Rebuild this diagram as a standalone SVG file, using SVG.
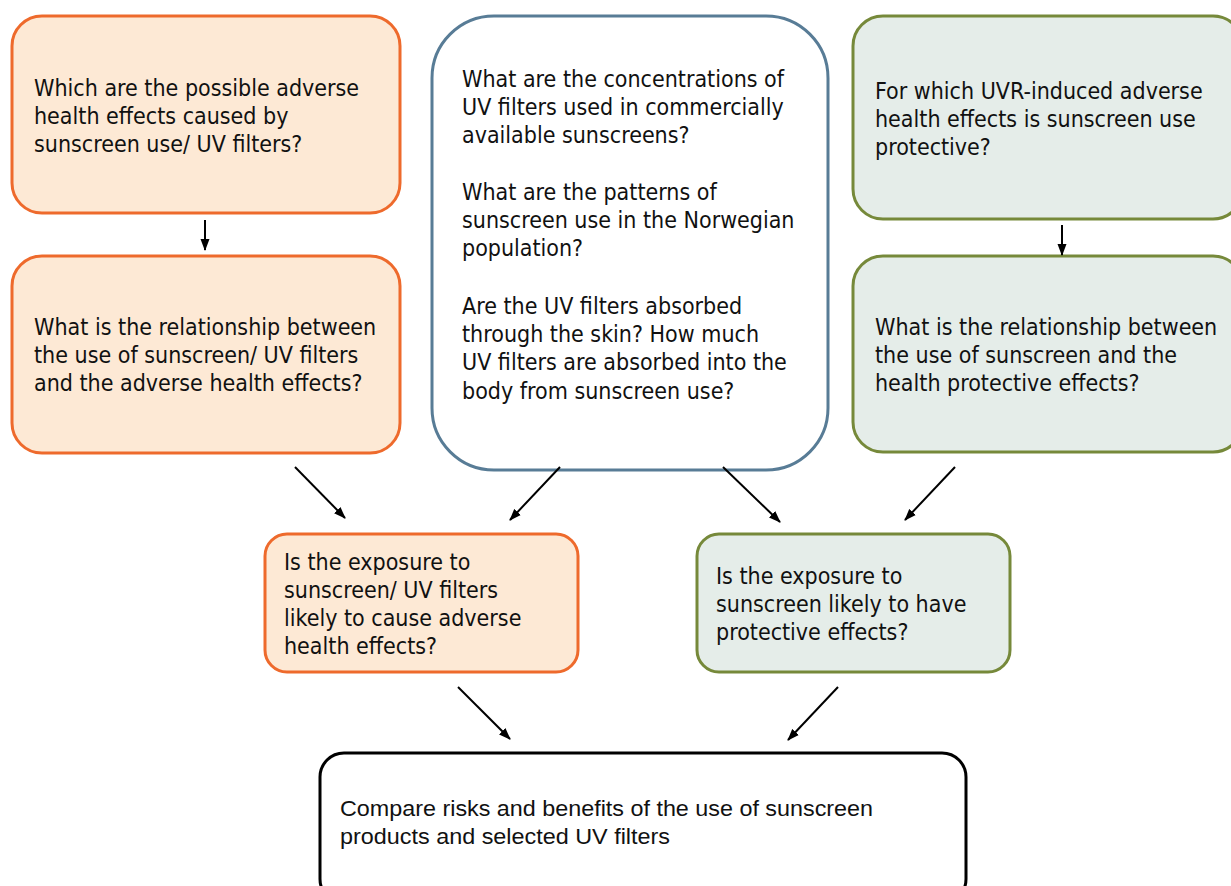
<svg xmlns="http://www.w3.org/2000/svg" width="1231" height="886" viewBox="0 0 1231 886">
  <defs>
    <marker id="arrow" viewBox="0 0 12 10" refX="11" refY="5" markerWidth="12" markerHeight="10" markerUnits="userSpaceOnUse" orient="auto">
      <path d="M0,0.5 L12,5 L0,9.5 z" fill="#000"/>
    </marker>
    <style>
      .t { font-family: "DejaVu Sans Condensed", "DejaVu Sans", sans-serif; font-stretch: condensed; font-size: 23px; fill: #111; }
      .tb { font-family: "Liberation Sans", Arial, sans-serif; font-size: 22px; fill: #111; }
      .risk { fill: #FDE9D5; stroke: #EE6A2C; stroke-width: 3; }
      .ben { fill: #E5EDE9; stroke: #76893A; stroke-width: 3; }
      .exp { fill: #FFFFFF; stroke: #587C96; stroke-width: 3; }
      .fin { fill: #FFFFFF; stroke: #000000; stroke-width: 3; }
      .conn line { stroke: #000; stroke-width: 2; marker-end: url(#arrow); }
    </style>
  </defs>
  <rect width="1231" height="886" fill="#FFFFFF"/>

  <!-- adverse effects branch -->
  <g id="risk-identify">
    <rect class="risk" x="12" y="16" width="388" height="197" rx="30"/>
    <text class="t" x="34" y="96">Which are the possible adverse</text>
    <text class="t" x="34" y="124">health effects caused by</text>
    <text class="t" x="34" y="152">sunscreen use/ UV filters?</text>
  </g>
  <g id="risk-relationship">
    <rect class="risk" x="12" y="256" width="388" height="197" rx="30"/>
    <text class="t" x="34" y="335">What is the relationship between</text>
    <text class="t" x="34" y="363">the use of sunscreen/ UV filters</text>
    <text class="t" x="34" y="391">and the adverse health effects?</text>
  </g>

  <!-- exposure questions -->
  <g id="exposure">
    <rect class="exp" x="432" y="16" width="396" height="454" rx="62"/>
    <text class="t" x="462" y="87">What are the concentrations of</text>
    <text class="t" x="462" y="115">UV filters used in commercially</text>
    <text class="t" x="462" y="143">available sunscreens?</text>
    <text class="t" x="462" y="200">What are the patterns of</text>
    <text class="t" x="462" y="228">sunscreen use in the Norwegian</text>
    <text class="t" x="462" y="256">population?</text>
    <text class="t" x="462" y="314">Are the UV filters absorbed</text>
    <text class="t" x="462" y="342">through the skin? How much</text>
    <text class="t" x="462" y="370">UV filters are absorbed into the</text>
    <text class="t" x="462" y="399">body from sunscreen use?</text>
  </g>

  <!-- protective effects branch -->
  <g id="benefit-identify">
    <rect class="ben" x="853" y="16" width="390" height="203" rx="30"/>
    <text class="t" x="875" y="99">For which UVR-induced adverse</text>
    <text class="t" x="875" y="127">health effects is sunscreen use</text>
    <text class="t" x="875" y="155">protective?</text>
  </g>
  <g id="benefit-relationship">
    <rect class="ben" x="853" y="256" width="390" height="196" rx="30"/>
    <text class="t" x="875" y="335">What is the relationship between</text>
    <text class="t" x="875" y="363">the use of sunscreen and the</text>
    <text class="t" x="875" y="391">health protective effects?</text>
  </g>

  <!-- characterisation -->
  <g id="risk-characterise">
    <rect class="risk" x="265" y="534" width="313" height="138" rx="22"/>
    <text class="t" x="284" y="570">Is the exposure to</text>
    <text class="t" x="284" y="598">sunscreen/ UV filters</text>
    <text class="t" x="284" y="626">likely to cause adverse</text>
    <text class="t" x="284" y="654">health effects?</text>
  </g>
  <g id="benefit-characterise">
    <rect class="ben" x="697" y="534" width="313" height="138" rx="22"/>
    <text class="t" x="716" y="584">Is the exposure to</text>
    <text class="t" x="716" y="612">sunscreen likely to have</text>
    <text class="t" x="716" y="640">protective effects?</text>
  </g>

  <!-- final comparison -->
  <g id="compare">
    <rect class="fin" x="320" y="753" width="646" height="150" rx="24"/>
    <text class="tb" x="340" y="816" textLength="533" lengthAdjust="spacingAndGlyphs">Compare risks and benefits of the use of sunscreen</text>
    <text class="tb" x="340" y="844" textLength="330" lengthAdjust="spacingAndGlyphs">products and selected UV filters</text>
  </g>

  <g id="connectors" class="conn">
    <line x1="205" y1="220" x2="205" y2="250"/>
    <line x1="1062" y1="225" x2="1062" y2="255"/>
    <line x1="295" y1="467" x2="345" y2="518"/>
    <line x1="560" y1="467" x2="510" y2="520"/>
    <line x1="723" y1="467" x2="780" y2="522"/>
    <line x1="955" y1="467" x2="905" y2="520"/>
    <line x1="458" y1="687" x2="510" y2="739"/>
    <line x1="838" y1="687" x2="788" y2="740"/>
  </g>
</svg>
